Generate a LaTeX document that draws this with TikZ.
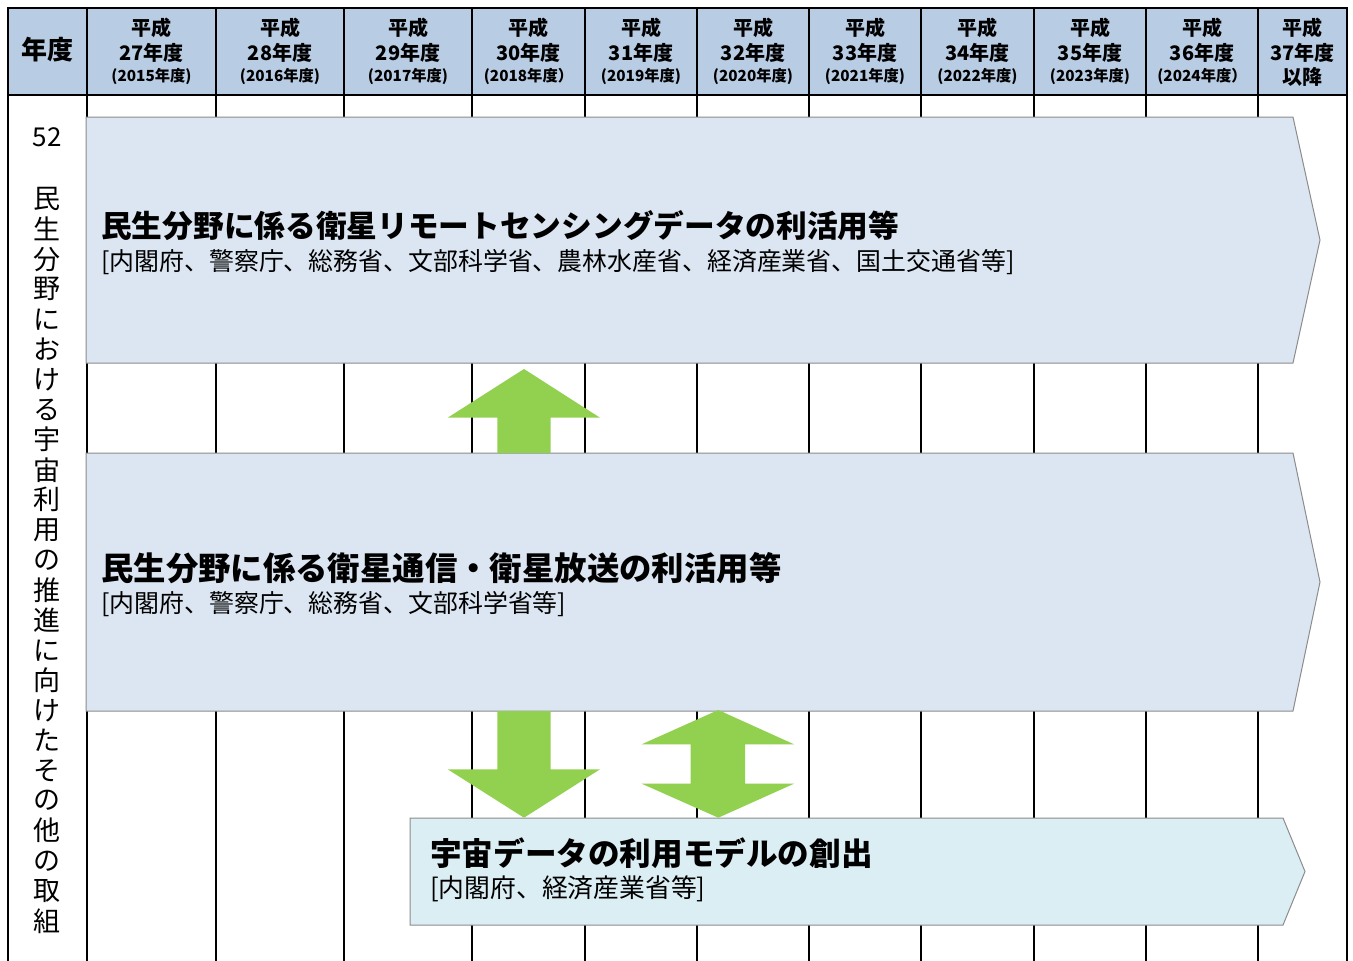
\documentclass[tikz,border=0pt]{standalone}
\usepackage{fontspec}
\setmainfont{Noto Sans CJK JP}
\definecolor{hdr}{HTML}{B8CCE4}
\definecolor{boxa}{HTML}{DCE6F2}
\definecolor{boxb}{HTML}{DBEEF4}
\definecolor{grn}{HTML}{92D050}
\definecolor{edge}{HTML}{8C8C8C}
\begin{document}
\begin{tikzpicture}[x=1pt,y=-1pt,
  gridline/.style={line width=1.5pt, black},
  outer/.style={line width=2.5pt, black},
  bar/.style={fill=boxa, draw=edge, line width=1pt},
  barb/.style={fill=boxb, draw=edge, line width=1pt},
  blockarrow/.style={fill=grn, draw=none},
  txt/.style={inner sep=0pt, text=black},
  hbig/.style={txt, font=\fontsize{26}{26}\selectfont\bfseries},
  hmid/.style={txt, font=\fontsize{20}{20}\selectfont\bfseries},
  hsmall/.style={txt, font=\fontsize{15.3}{15.3}\selectfont\bfseries},
  vchar/.style={txt, font=\fontsize{27}{27}\selectfont},
  ttl/.style={txt, anchor=west, font=\bfseries},
  sub/.style={txt, anchor=west, font=\fontsize{24.9}{24.9}\selectfont}
]
\useasboundingbox (0,0) rectangle (1353,961);
\fill[white] (0,0) rectangle (1353,961);

% header background and grid
\fill[hdr] (8,8) rectangle (1347,95);
\foreach \x in {87,216,344,472,585,697,809,921,1034,1146,1258}
  \draw[gridline] (\x,8) -- (\x,961);
\draw[gridline] (8,95) -- (1347,95);
\draw[outer] (8,961) -- (8,8) -- (1347,8) -- (1347,961);

% header texts
\node[hbig] (hy) at (47.5,50) {年度};
\foreach \xl/\xr/\yr/\wy [count=\i] in {
  87/216/27/{(2015年度)}, 216/344/28/{(2016年度)}, 344/472/29/{(2017年度)},
  472/585/30/{(2018年度）}, 585/697/31/{(2019年度)}, 697/809/32/{(2020年度)},
  809/921/33/{(2021年度)}, 921/1034/34/{(2022年度)}, 1034/1146/35/{(2023年度)},
  1146/1258/36/{(2024年度）}} {
  \node[hmid] (hp\i) at ({(\xl+\xr)/2},28) {平成};
  \node[hmid] (hn\i) at ({(\xl+\xr)/2},53) {{\yr}年度};
  \node[hsmall] (hw\i) at ({(\xl+\xr)/2},76) {\wy};
}
\node[hmid] (hp11) at (1302.5,28) {平成};
\node[hmid] (hn11) at (1302.5,53) {37年度};
\node[hmid] (hw11) at (1302.5,77) {以降};

% left label column
\node[txt, font=\fontsize{26}{26}\selectfont] (num) at (47,137) {52};
\foreach \ch [count=\i from 0] in {民,生,分,野,に,お,け,る,宇,宙,利,用,の,推,進,に,向,け,た,そ,の,他,の,取,組}
  \node[vchar] (v\i) at (47,{199+30.08*\i}) {\ch};

% bars
\draw[bar] (86,117) -- (1293,117) -- (1320,240) -- (1293,363) -- (86,363) -- cycle;
\draw[bar] (86,453) -- (1293,453) -- (1320,582) -- (1293,711) -- (86,711) -- cycle;
\draw[barb] (410,818) -- (1283,818) -- (1305,871.5) -- (1283,925) -- (410,925) -- cycle;

% green block arrows
\fill[blockarrow] (497.3,453) -- (497.3,417.7) -- (447.7,417.7) -- (524,369) -- (600,417.7) -- (550.7,417.7) -- (550.7,453) -- cycle;
\fill[blockarrow] (497.3,711) -- (497.3,769.3) -- (447.7,769.3) -- (524,817.7) -- (600,769.3) -- (550.7,769.3) -- (550.7,711) -- cycle;
\fill[blockarrow] (718.3,710) -- (794,744.3) -- (745,744.3) -- (745,783.7) -- (794,783.7) -- (718.3,817.7) -- (641.7,783.7) -- (690.7,783.7) -- (690.7,744.3) -- (641.7,744.3) -- cycle;

% bar texts
\node[ttl, font=\fontsize{30.7}{30.7}\selectfont\bfseries] (t1) at (101,226) {民生分野に係る衛星リモートセンシングデータの利活用等};
\node[sub] (s1) at (101,262) {[内閣府、警察庁、総務省、文部科学省、農林水産省、経済産業省、国土交通省等]};
\node[ttl, font=\fontsize{32.4}{32.4}\selectfont\bfseries] (t2) at (101,568) {民生分野に係る衛星通信・衛星放送の利活用等};
\node[sub] (s2) at (101,604) {[内閣府、警察庁、総務省、文部科学省等]};
\node[ttl, font=\fontsize{31.6}{31.6}\selectfont\bfseries] (t3) at (430,853) {宇宙データの利用モデルの創出};
\node[sub, font=\fontsize{25.8}{25.8}\selectfont] (s3) at (430,889) {[内閣府、経済産業省等]};
\end{tikzpicture}
\end{document}
